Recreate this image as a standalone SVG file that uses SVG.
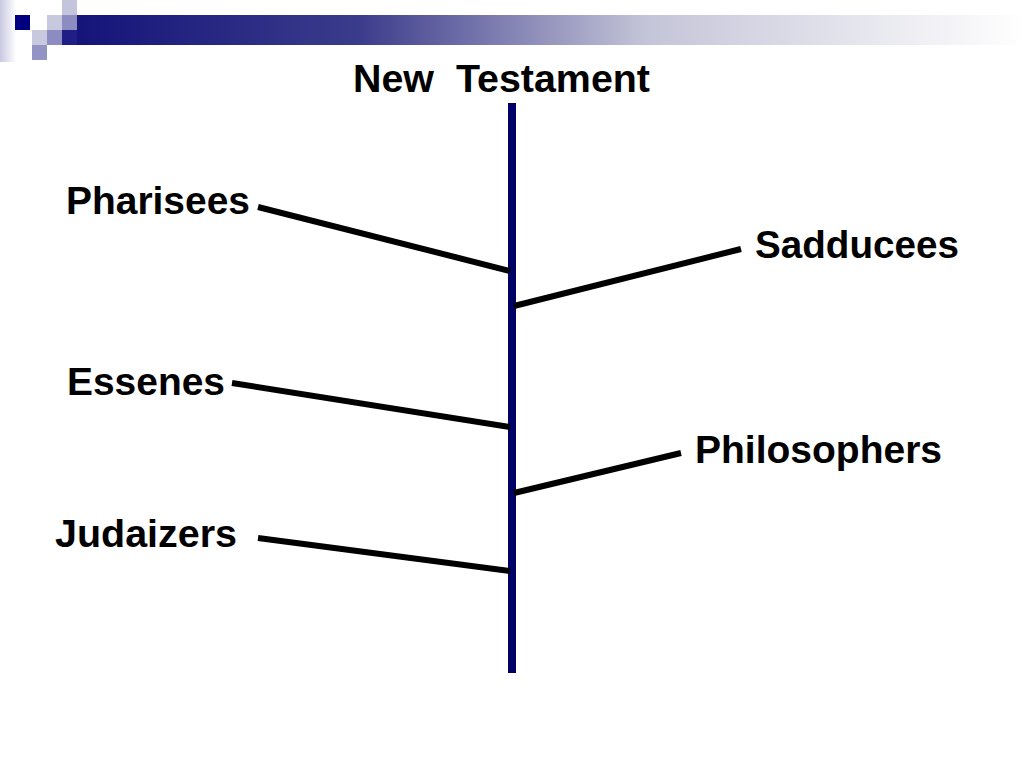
<svg xmlns="http://www.w3.org/2000/svg" width="1024" height="768" viewBox="0 0 1024 768">
  <defs>
    <linearGradient id="bar" x1="0" y1="0" x2="1" y2="0">
      <stop offset="0" stop-color="#14147a"/>
      <stop offset="0.3" stop-color="#3c3c8c"/>
      <stop offset="0.6" stop-color="#c4c4d8"/>
      <stop offset="1" stop-color="#ffffff"/>
    </linearGradient>
    <linearGradient id="edge" x1="0" y1="0" x2="1" y2="0">
      <stop offset="0" stop-color="#c8c8e0"/>
      <stop offset="1" stop-color="#ffffff"/>
    </linearGradient>
    <style>
      .lbl { font-family: "Liberation Sans", Arial, sans-serif; font-weight: bold; font-size: 39px; fill: #000; }
      .branch { stroke: #000; stroke-width: 6; fill: none; }
      .trunk { stroke: #000066; stroke-width: 8; }
    </style>
  </defs>
  <rect width="1024" height="768" fill="#ffffff"/>
  <g id="decoration">
    <rect x="0" y="0" width="16" height="62" fill="url(#edge)"/>
    <rect x="77" y="15" width="947" height="30" fill="url(#bar)"/>
    <rect x="15" y="15" width="15" height="15" fill="#000080"/>
    <rect x="62" y="0" width="15" height="15" fill="#c4c4dc"/>
    <rect x="47" y="15" width="15" height="15" fill="#c8c8de"/>
    <rect x="62" y="15" width="15" height="15" fill="#8c8cc0"/>
    <rect x="32" y="30" width="15" height="15" fill="#c8c8de"/>
    <rect x="47" y="30" width="15" height="15" fill="#8c8cc0"/>
    <rect x="62" y="30" width="15" height="15" fill="#1e1e86"/>
    <rect x="32" y="45" width="15" height="15" fill="#9494c4"/>
  </g>
  <g id="title">
    <text class="lbl" x="353" y="92" xml:space="preserve" textLength="297" lengthAdjust="spacingAndGlyphs">New  Testament</text>
  </g>
  <g id="connectors">
    <line class="trunk" x1="512" y1="103" x2="512" y2="673"/>
    <line class="branch" x1="258" y1="207" x2="510" y2="271"/>
    <line class="branch" x1="514" y1="306" x2="741" y2="249"/>
    <line class="branch" x1="232" y1="383" x2="510" y2="427"/>
    <line class="branch" x1="514" y1="493" x2="681" y2="453"/>
    <line class="branch" x1="258" y1="538" x2="510" y2="571"/>
  </g>
  <g id="pharisees"><text class="lbl" x="66" y="214" textLength="184" lengthAdjust="spacingAndGlyphs">Pharisees</text></g>
  <g id="sadducees"><text class="lbl" x="755" y="258" textLength="204" lengthAdjust="spacingAndGlyphs">Sadducees</text></g>
  <g id="essenes"><text class="lbl" x="67" y="395" textLength="158" lengthAdjust="spacingAndGlyphs">Essenes</text></g>
  <g id="philosophers"><text class="lbl" x="695" y="463" textLength="247" lengthAdjust="spacingAndGlyphs">Philosophers</text></g>
  <g id="judaizers"><text class="lbl" x="55" y="547" textLength="182" lengthAdjust="spacingAndGlyphs">Judaizers</text></g>
</svg>
